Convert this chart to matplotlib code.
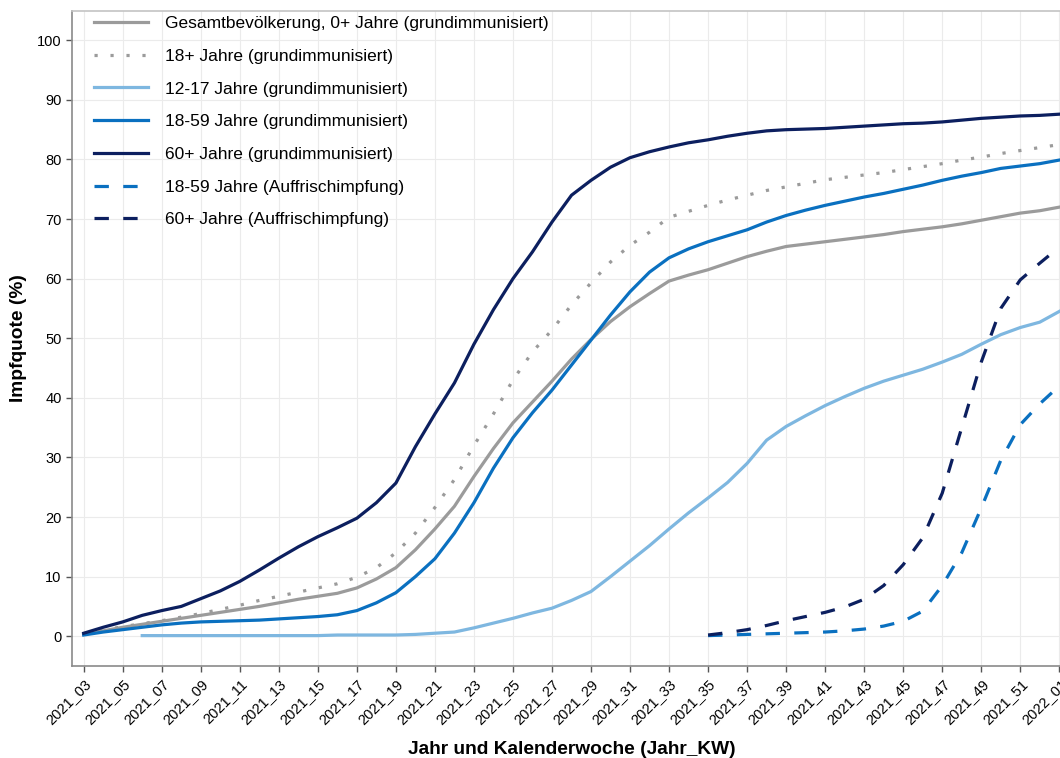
import numpy as np
import matplotlib.pyplot as plt

plt.rcParams['font.family'] = ['Liberation Sans', 'DejaVu Sans']

# Kalenderwochen 2021_03 ... 2022_01
weeks = [f"2021_{w:02d}" for w in range(3, 53)] + ["2022_01"]

gesamt = [0.3, 0.9, 1.5, 2.0, 2.5, 3.0, 3.5, 4.0, 4.5, 5.0,
          5.6, 6.2, 6.7, 7.2, 8.1, 9.6, 11.5, 14.5, 18.0, 21.8,
          26.8, 31.5, 35.8, 39.3, 42.8, 46.5, 49.8, 52.8, 55.3, 57.5,
          59.6, 60.6, 61.5, 62.6, 63.7, 64.6, 65.4, 65.8, 66.2, 66.6,
          67.0, 67.4, 67.9, 68.3, 68.7, 69.2, 69.8, 70.4, 71.0, 71.4,
          72.0]

ue18 = [0.4, 1.0, 1.6, 2.1, 2.6, 3.2, 3.8, 4.5, 5.2, 6.0,
        6.7, 7.4, 8.1, 8.8, 9.9, 11.5, 14.0, 17.3, 21.6, 26.3,
        32.0, 37.3, 43.0, 47.7, 51.4, 55.6, 59.3, 62.8, 65.6, 67.8,
        70.3, 71.3, 72.3, 73.2, 74.0, 74.8, 75.4, 76.0, 76.6, 77.0,
        77.4, 77.8, 78.3, 78.8, 79.3, 79.9, 80.4, 81.0, 81.5, 82.0,
        82.5]

age12_17 = [None, None, None, 0.1, 0.1, 0.1, 0.1, 0.1, 0.1, 0.1,
            0.1, 0.1, 0.1, 0.2, 0.2, 0.2, 0.2, 0.3, 0.5, 0.7,
            1.4, 2.2, 3.0, 3.9, 4.7, 6.0, 7.5, 10.0, 12.6, 15.2,
            18.0, 20.7, 23.2, 25.8, 29.0, 32.9, 35.2, 37.0, 38.7, 40.2,
            41.6, 42.8, 43.8, 44.8, 46.0, 47.3, 49.0, 50.6, 51.8, 52.7,
            54.5]

age18_59 = [0.2, 0.7, 1.1, 1.5, 1.9, 2.2, 2.4, 2.5, 2.6, 2.7,
            2.9, 3.1, 3.3, 3.6, 4.3, 5.6, 7.3, 10.0, 13.0, 17.3,
            22.4, 28.2, 33.3, 37.5, 41.3, 45.5, 49.7, 53.9, 57.8, 61.1,
            63.5, 65.0, 66.2, 67.2, 68.2, 69.5, 70.6, 71.5, 72.3, 73.0,
            73.7, 74.3, 75.0, 75.7, 76.5, 77.2, 77.8, 78.5, 78.9, 79.3,
            79.9]

age60 = [0.5, 1.5, 2.4, 3.5, 4.3, 5.0, 6.3, 7.6, 9.2, 11.1,
         13.1, 15.0, 16.7, 18.2, 19.8, 22.4, 25.7, 31.8, 37.3, 42.5,
         49.0, 54.8, 60.0, 64.5, 69.5, 74.0, 76.5, 78.7, 80.3, 81.3,
         82.1, 82.8, 83.3, 83.9, 84.4, 84.8, 85.0, 85.1, 85.2, 85.4,
         85.6, 85.8, 86.0, 86.1, 86.3, 86.6, 86.9, 87.1, 87.3, 87.4,
         87.6]

# Auffrischimpfung ab 2021_35
booster_start = "2021_35"
booster18_59 = [0.1, 0.2, 0.3, 0.4, 0.5, 0.6, 0.7, 0.9, 1.2, 1.7,
                2.5, 4.2, 8.5, 14.0, 21.5, 29.5, 35.5, 39.0, 42.0]
booster60 = [0.2, 0.6, 1.1, 1.8, 2.6, 3.3, 4.0, 4.9, 6.2, 8.5,
             12.0, 16.5, 24.0, 35.0, 46.0, 55.0, 59.8, 62.6, 65.3]

c_gray = '#9B9B9B'
c_light = '#7EB7E0'
c_blue = '#0A70C0'
c_navy = '#0C1F5F'

x = np.arange(len(weeks))
b0 = weeks.index(booster_start)
xb = x[b0:b0 + len(booster60)]

def arr(v):
    return np.array([np.nan if a is None else a for a in v], dtype=float)

fig = plt.figure(figsize=(10.6, 7.58), dpi=100)
ax = fig.add_axes([72 / 1060, 92 / 758, 999 / 1060, 655.5 / 758])

lw = 2.3
dotted = (0, (1, 4))
dashed = (0, (4.5, 4.5))
ax.plot(x, gesamt, color=c_gray, lw=lw, label='Gesamtbevölkerung, 0+ Jahre (grundimmunisiert)')
ax.plot(x, ue18, color=c_gray, lw=lw, linestyle=dotted, label='18+ Jahre (grundimmunisiert)')
ax.plot(x, arr(age12_17), color=c_light, lw=lw, label='12-17 Jahre (grundimmunisiert)')
ax.plot(x, age18_59, color=c_blue, lw=lw, label='18-59 Jahre (grundimmunisiert)')
ax.plot(x, age60, color=c_navy, lw=lw, label='60+ Jahre (grundimmunisiert)')
ax.plot(xb, booster18_59, color=c_blue, lw=lw, linestyle=dashed, label='18-59 Jahre (Auffrischimpfung)')
ax.plot(xb, booster60, color=c_navy, lw=lw, linestyle=dashed, label='60+ Jahre (Auffrischimpfung)')

ax.set_xlim(-0.6, len(weeks) - 1 + 0.6)
ax.set_ylim(-5, 105)
ax.set_xticks(x[::2])
ax.set_xticklabels(weeks[::2], rotation=45, ha='right', va='top', rotation_mode='anchor', fontsize=10.5)
ax.set_yticks(np.arange(0, 101, 10))
ax.tick_params(axis='y', labelsize=10.5)
ax.tick_params(colors='#555555', labelcolor='black', length=4, width=1)

ax.grid(True, color='#EBEBEB', lw=0.8)
ax.set_axisbelow(True)
ax.spines['right'].set_visible(False)
ax.spines['top'].set_color('#C4C4C4')
ax.spines['left'].set_color('#8A8A8A')
ax.spines['bottom'].set_color('#8A8A8A')
for s in ax.spines.values():
    s.set_linewidth(1.2)

ax.set_xlabel('Jahr und Kalenderwoche (Jahr_KW)', fontsize=13.8, fontweight='bold', labelpad=10)
ax.set_ylabel('Impfquote (%)', fontsize=13.8, fontweight='bold', labelpad=7)

ax.legend(loc='upper left', bbox_to_anchor=(94 / 1060, 1 - 16 / 758), bbox_transform=fig.transFigure,
          frameon=False, fontsize=12.5, handlelength=3.1, handletextpad=1.0, labelspacing=1.01,
          borderpad=0, borderaxespad=0)

fig.savefig('out.png', dpi=100)
